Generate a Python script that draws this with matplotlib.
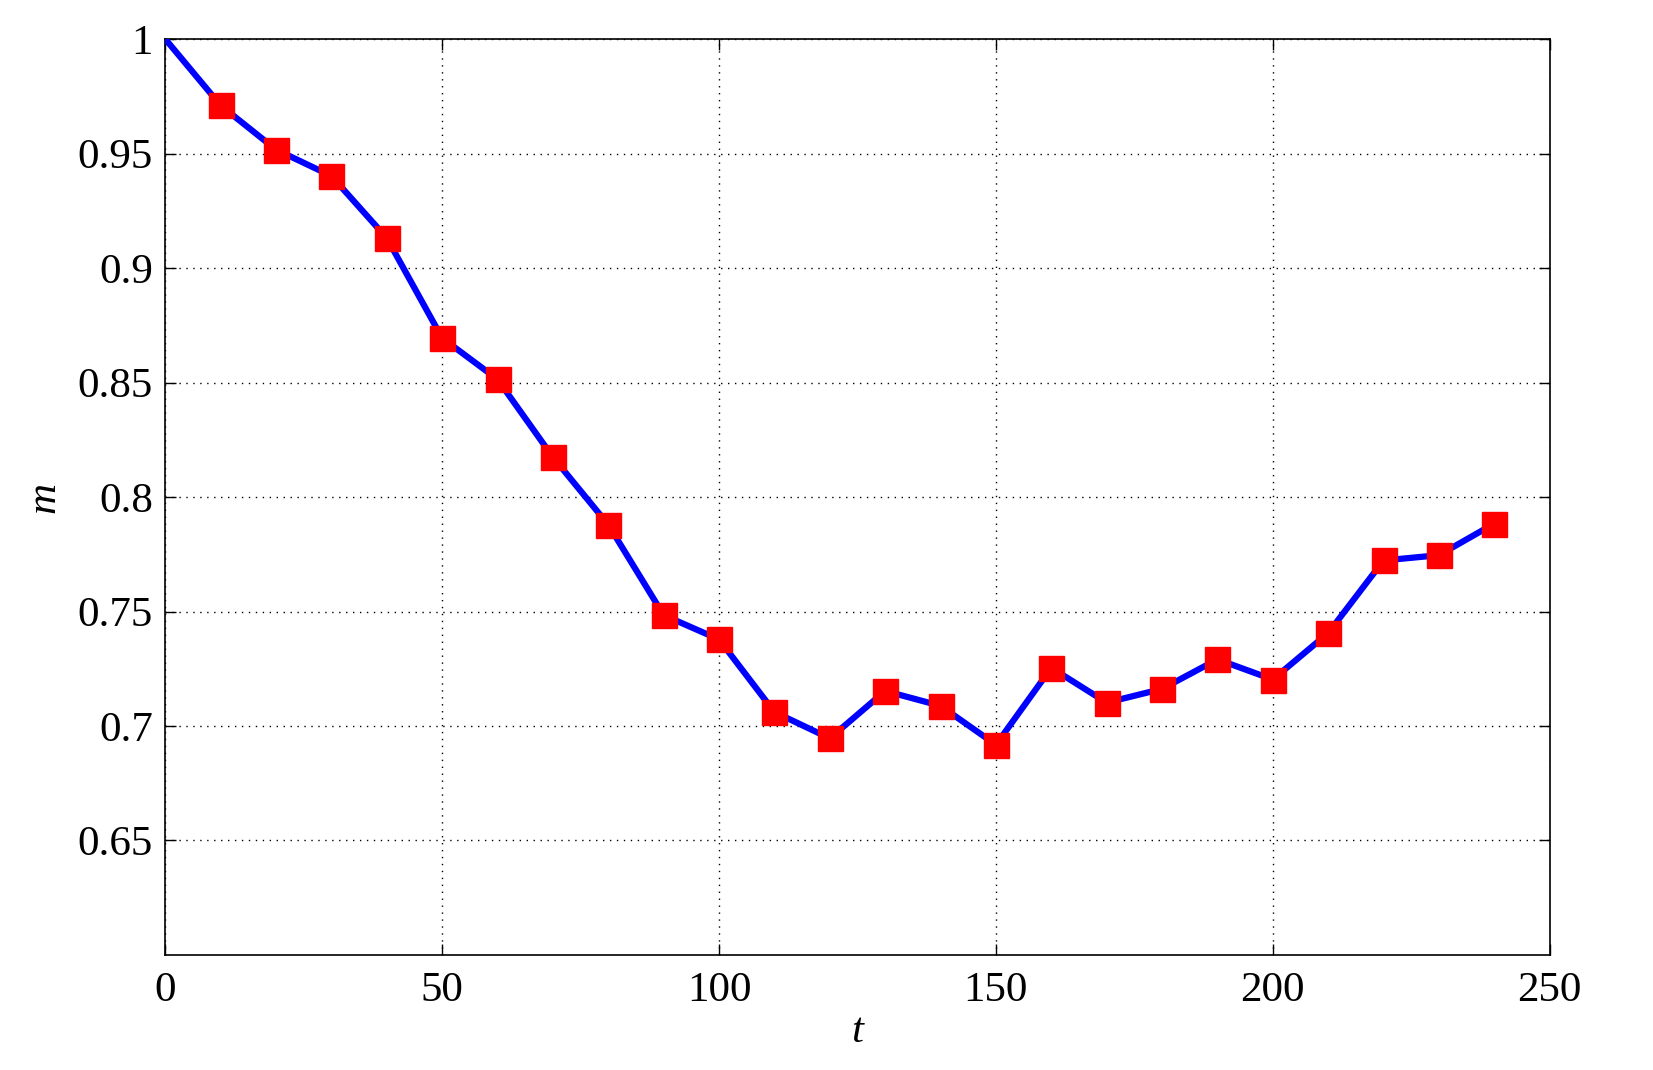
import matplotlib
matplotlib.use("Agg")
import matplotlib.pyplot as plt

# dane
t = [0, 10, 20, 30, 40, 50, 60, 70, 80, 90, 100, 110, 120,
     130, 140, 150, 160, 170, 180, 190, 200, 210, 220, 230, 240]
m = [1.0, 0.971, 0.9517, 0.9402, 0.9131, 0.8694, 0.8514, 0.8174, 0.7879,
     0.7484, 0.7378, 0.7061, 0.6946, 0.7153, 0.7088, 0.6918, 0.7254,
     0.7102, 0.7162, 0.7291, 0.7203, 0.7406, 0.7723, 0.7746, 0.7884]
xticks = [0, 50, 100, 150, 200, 250]
yticks = [0.65, 0.7, 0.75, 0.8, 0.85, 0.9, 0.95, 1.0]
ytick_labels = ["0.65", "0.7", "0.75", "0.8", "0.85", "0.9", "0.95", "1"]

plt.rcParams["font.family"] = ["Liberation Serif", "DejaVu Serif"]

fig = plt.figure(figsize=(16.53, 10.70), dpi=100)
ax = fig.add_axes([0.100, 0.1075, 0.8375, 0.856])

ax.plot(t, m, color="#0000ff", linewidth=4.5, marker="s", markersize=18,
        markerfacecolor="#ff0000", markeredgecolor="#ff0000",
        markevery=list(range(1, len(t))), zorder=3)

ax.set_xlim(0, 250)
ax.set_ylim(0.6, 1.0)
ax.set_xticks(xticks)
ax.set_xticklabels([str(x) for x in xticks])
ax.set_yticks(yticks)
ax.set_yticklabels(ytick_labels)
ax.tick_params(direction="in", length=8, width=1, labelsize=31,
               top=True, right=True, pad=9)
ax.tick_params(axis="x", pad=12)
ax.grid(True, color="black", linestyle=(0, (1, 4)), linewidth=1)
for s in ax.spines.values():
    s.set_linewidth(1.2)

ax.set_xlabel("t", fontsize=31, style="italic", labelpad=2)
ax.set_ylabel("m", fontsize=31, style="italic", labelpad=10)

fig.savefig("out.png", dpi=100)
